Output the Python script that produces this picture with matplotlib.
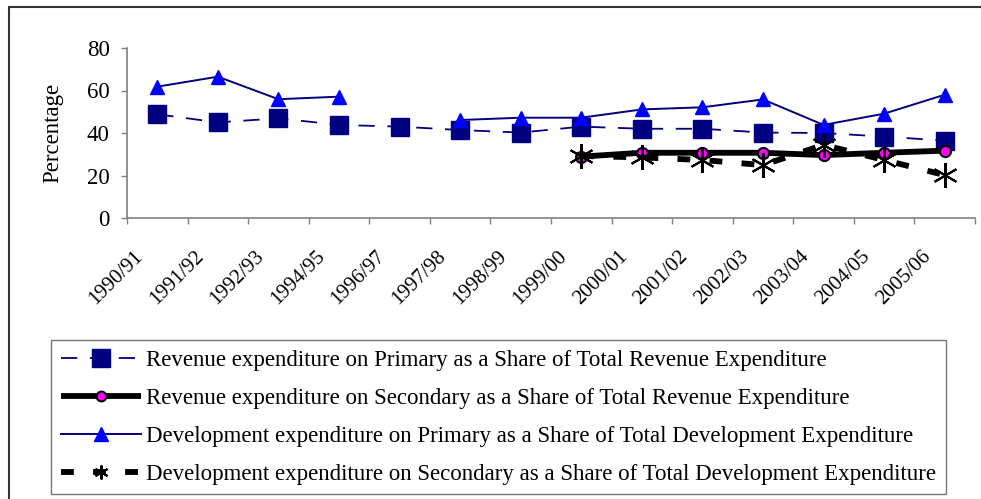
import numpy as np
import matplotlib
matplotlib.use("Agg")
import matplotlib.pyplot as plt
from matplotlib.patches import Rectangle

years = ["1990/91", "1991/92", "1992/93", "1994/95", "1996/97", "1997/98", "1998/99",
         "1999/00", "2000/01", "2001/02", "2002/03", "2003/04", "2004/05", "2005/06"]
nan = np.nan
rev_primary = [48.8, 45.0, 46.9, 43.8, 43.0, 41.4, 40.2, 43.0, 42.0, 42.0, 40.2, 40.0, 38.3, 36.4]
rev_secondary = [nan, nan, nan, nan, nan, nan, nan, 28.9, 30.7, 30.7, 30.7, 29.6, 30.7, 31.7]
dev_primary = [61.8, 66.5, 55.9, 57.1, nan, 46.1, 47.2, 47.2, 51.1, 52.1, 55.8, 43.8, 49.1, 58.0]
dev_secondary = [nan, nan, nan, nan, nan, nan, nan, 29.2, 28.5, 27.3, 24.9, 34.4, 27.3, 20.2]
yticks = [0, 20, 40, 60, 80]

labels = ["Revenue expenditure on Primary as a Share of Total Revenue Expenditure",
          "Revenue expenditure on Secondary as a Share of Total Revenue Expenditure",
          "Development expenditure on Primary as a Share of Total Development Expenditure",
          "Development expenditure on Secondary as a Share of Total Development Expenditure"]

plt.rcParams['font.family'] = ['Liberation Serif', 'DejaVu Serif']
FS_Y = 16.5
FS_X = 15
FS_L = 16.5

W, H = 981, 499
fig = plt.figure(figsize=(W / 100, H / 100), dpi=100)
ax = fig.add_axes([127 / W, 1 - 218 / H, (975 - 127) / W, (218 - 48) / H])

x = np.arange(len(years))
navy = "#000080"
ax.plot(x, rev_primary, color=navy, lw=1.3, linestyle=(0, (9, 7)),
        marker="s", ms=13, mfc=navy, mec=navy, label=labels[0])
ax.plot(x, rev_secondary, color="black", lw=4.2, solid_capstyle="butt",
        marker="o", ms=8, mfc="#FF00FF", mec="black", mew=1.5, label=labels[1])
ax.plot(x, dev_primary, color=navy, lw=1.4,
        marker="^", ms=10, mfc="#0000FF", mec="#0000FF", label=labels[2])
ax.plot(x, dev_secondary, color="black", lw=4.2, linestyle=(0, (2.2, 3.3)),
        marker=(6, 2, 0), ms=18, mec="black", mew=1.5, label=labels[3])

ax.set_xlim(-0.5, len(years) - 0.5)
ax.set_ylim(0, 80)
ax.set_yticks(yticks)
ax.set_xticks(np.arange(-0.5, len(years)))
ax.set_xticklabels([])
for xi, yr in zip(x, years):
    ax.annotate(yr, xy=(xi, 0), xycoords=("data", "axes fraction"),
                xytext=(-17 * 0.72, -36 * 0.72), textcoords="offset points",
                rotation=45, ha="right", va="center", rotation_mode="anchor",
                fontsize=FS_X, annotation_clip=False)
ax.tick_params(axis="x", which="major", direction="out", length=4.5, color="#808080", width=1)
ax.tick_params(axis="y", direction="out", length=4.5, color="#808080", width=1,
               labelsize=FS_Y, pad=8)
for s in ["top", "right"]:
    ax.spines[s].set_visible(False)
for s in ["left", "bottom"]:
    ax.spines[s].set_color("#808080")
    ax.spines[s].set_linewidth(1.2)
ax.set_ylabel("Percentage", fontsize=FS_Y)
ax.yaxis.set_label_coords(-64 / (975 - 127), 0.5)

leg = fig.legend(loc="upper left", bbox_to_anchor=(51 / W, 1 - 340 / H),
                 fontsize=FS_L, frameon=True, fancybox=False, handlelength=3.5,
                 handletextpad=0.22, labelspacing=0.74, borderpad=0.42,
                 borderaxespad=0)
leg.get_frame().set_edgecolor("#555555")
leg.get_frame().set_linewidth(1.0)
for h, ms in zip(leg.legend_handles, [13, 7, 10, 10]):
    h.set_markersize(ms)

fig.add_artist(Rectangle((9 / W, -0.1), 1.2, 1 - 7 / H + 0.1, transform=fig.transFigure,
                         fill=False, edgecolor="#333333", lw=1.5))

fig.savefig("out.png", dpi=100)
